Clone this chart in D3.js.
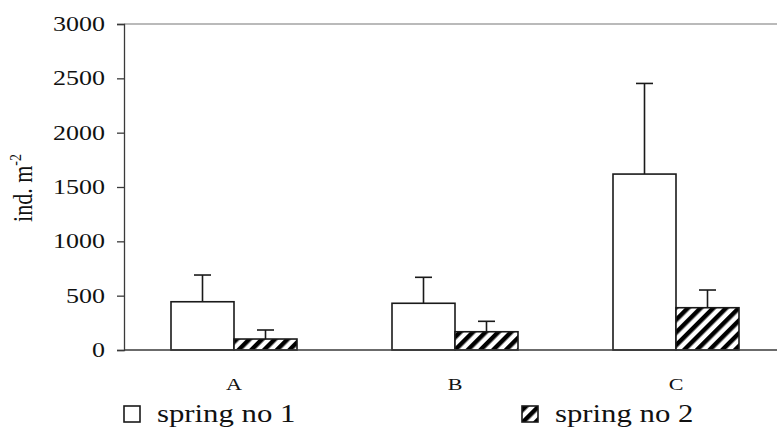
<!DOCTYPE html>
<html>
<head>
<meta charset="utf-8">
<script src="https://cdn.jsdelivr.net/npm/d3@7"></script>
<style>
  body { margin: 0; background: #fff; }
  text { font-family: "Liberation Serif", "Times New Roman", serif; fill: #111; }
</style>
</head>
<body>
<svg id="chart" width="777" height="432"></svg>
<script>
// data
var sites = ["A", "B", "C"];
var seriesNames = ["spring no 1", "spring no 2"];
var spring1 = [444, 430, 1619];
var spring1Err = [246, 239, 834];
var spring2 = [101, 168, 389];
var spring2Err = [83, 96, 163];
var yTicks = [0, 500, 1000, 1500, 2000, 2500, 3000];

var sx = 1.3; // the original picture is stretched sideways

var svg = d3.select("#chart");

var defs = svg.append("defs");
var pat = defs.append("pattern")
    .attr("id", "hatch")
    .attr("patternUnits", "userSpaceOnUse")
    .attr("width", 9)
    .attr("height", 9)
    .attr("patternTransform", "rotate(45)");
pat.append("rect").attr("width", 9).attr("height", 9).attr("fill", "#fff");
pat.append("rect").attr("width", 4.5).attr("height", 9).attr("fill", "#000");

var yScale = d3.scaleLinear()
    .domain([0, 3000])
    .range([350, 24]);

var xScale = d3.scaleBand()
    .domain(sites)
    .range([123.5, 786.5]);

var xInner = d3.scaleBand()
    .domain(seriesNames)
    .range([47.5, 173.5]);

// frame
svg.append("line")
    .attr("x1", 124).attr("x2", 800)
    .attr("y1", yScale(3000)).attr("y2", yScale(3000))
    .attr("stroke", "#a3a3a3")
    .attr("stroke-width", 1.7);

// y axis with ticks
var yAxis = svg.append("g")
    .attr("transform", "translate(124,0)")
    .call(d3.axisLeft(yScale).tickValues(yTicks).tickSize(7).tickFormat(""));
yAxis.select(".domain").attr("stroke", "#3a3a3a").attr("stroke-width", 1.3);
yAxis.selectAll(".tick line").attr("stroke", "#3a3a3a").attr("stroke-width", 1.3);

for (let j = 0; j < yTicks.length; j++) {
    svg.append("text")
        .attr("transform", "translate(105," + (yScale(yTicks[j]) + 7) + ") scale(" + sx + ",1)")
        .attr("text-anchor", "end")
        .style("font-size", "20px")
        .text(yTicks[j]);
}

// y title
var yTitle = svg.append("text")
    .attr("transform", "translate(32,188) rotate(-90) scale(1," + 1.25 + ")")
    .attr("text-anchor", "middle")
    .style("font-size", "22px");
yTitle.append("tspan").text("ind. m");
yTitle.append("tspan").attr("dy", -9).style("font-size", "14px").text("-2");

// bars
var seriesData = [
    {name: seriesNames[0], vals: spring1, errs: spring1Err, fill: "#fff"},
    {name: seriesNames[1], vals: spring2, errs: spring2Err, fill: "url(#hatch)"}
];

seriesData.forEach(function (s) {
    for (let i = 0; i < sites.length; i++) {
        let x0 = xScale(sites[i]) + xInner(s.name);
        let w = xInner.bandwidth();
        let cx = x0 + w / 2;
        // error bar
        svg.append("line")
            .attr("x1", cx).attr("x2", cx)
            .attr("y1", yScale(s.vals[i])).attr("y2", yScale(s.vals[i] + s.errs[i]))
            .attr("stroke", "#1a1a1a").attr("stroke-width", 1.6);
        svg.append("line")
            .attr("x1", cx - 8.5).attr("x2", cx + 8.5)
            .attr("y1", yScale(s.vals[i] + s.errs[i])).attr("y2", yScale(s.vals[i] + s.errs[i]))
            .attr("stroke", "#1a1a1a").attr("stroke-width", 1.6);
        svg.append("rect")
            .attr("x", x0)
            .attr("y", yScale(s.vals[i]))
            .attr("width", w)
            .attr("height", yScale(0) - yScale(s.vals[i]))
            .attr("fill", s.fill)
            .attr("stroke", "#1a1a1a")
            .attr("stroke-width", 1.6);
    }
});

// x axis line
svg.append("line")
    .attr("x1", 124).attr("x2", 800)
    .attr("y1", yScale(0)).attr("y2", yScale(0))
    .attr("stroke", "#3a3a3a")
    .attr("stroke-width", 1.3);

for (let i = 0; i < sites.length; i++) {
    svg.append("text")
        .attr("transform", "translate(" + (xScale(sites[i]) + xScale.bandwidth() / 2) + ",390) scale(" + sx + ",1)")
        .attr("text-anchor", "middle")
        .style("font-size", "17px")
        .text(sites[i]);
}

// legend
var legX = [124, 522];
seriesData.forEach(function (s, k) {
    svg.append("rect")
        .attr("x", legX[k]).attr("y", 406)
        .attr("width", 16).attr("height", 16)
        .attr("fill", s.fill)
        .attr("stroke", "#1a1a1a")
        .attr("stroke-width", 1.6);
    svg.append("text")
        .attr("transform", "translate(" + (legX[k] + 33) + ",422) scale(1.23,1)")
        .style("font-size", "25px")
        .text(s.name);
});
</script>
</body>
</html>
